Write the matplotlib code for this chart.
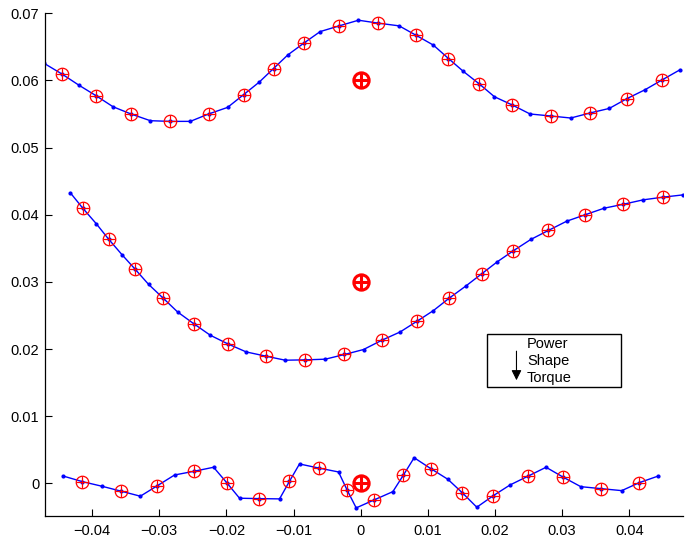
import numpy as np
import matplotlib
matplotlib.use('Agg')
import matplotlib.pyplot as plt
from matplotlib.patches import Rectangle, FancyArrowPatch

plt.rcParams['font.family'] = ['Liberation Sans', 'DejaVu Sans']

# power curve (top)
power_x = [-0.04710, -0.04446, -0.04199, -0.03940, -0.03688, -0.03420, -0.03132, -0.02835,
           -0.02537, -0.02265, -0.01982, -0.01744, -0.01510, -0.01298, -0.01083, -0.00841,
           -0.00603, -0.00320, -0.00033, 0.00265, 0.00573, 0.00821, 0.01083, 0.01307,
           0.01530, 0.01763, 0.01991, 0.02259, 0.02522, 0.02830, 0.03128, 0.03415,
           0.03702, 0.03961, 0.04234, 0.04491, 0.04754]
power_y = [0.06253, 0.06095, 0.05932, 0.05773, 0.05609, 0.05501, 0.05401, 0.05391,
           0.05391, 0.05501, 0.05599, 0.05788, 0.05976, 0.06178, 0.06382, 0.06560,
           0.06728, 0.06813, 0.06897, 0.06853, 0.06813, 0.06675, 0.06526, 0.06327,
           0.06134, 0.05951, 0.05758, 0.05634, 0.05501, 0.05471, 0.05441, 0.05516,
           0.05584, 0.05728, 0.05862, 0.06010, 0.06159]

# shape curve (middle)
shape_x = [-0.04323, -0.04134, -0.03936, -0.03753, -0.03554, -0.03356, -0.03158, -0.02943,
           -0.02726, -0.02488, -0.02240, -0.01976, -0.01704, -0.01411, -0.01124, -0.00826,
           -0.00528, -0.00241, 0.00042, 0.00315, 0.00588, 0.00845, 0.01083, 0.01321,
           0.01565, 0.01804, 0.02036, 0.02274, 0.02533, 0.02795, 0.03068, 0.03341,
           0.03624, 0.03911, 0.04208, 0.04497, 0.04804]
shape_y = [0.04327, 0.04094, 0.03866, 0.03637, 0.03406, 0.03187, 0.02964, 0.02761,
           0.02553, 0.02380, 0.02207, 0.02077, 0.01958, 0.01895, 0.01835, 0.01840,
           0.01850, 0.01920, 0.01994, 0.02132, 0.02256, 0.02419, 0.02574, 0.02761,
           0.02939, 0.03123, 0.03302, 0.03465, 0.03633, 0.03767, 0.03905, 0.04000,
           0.04098, 0.04157, 0.04223, 0.04262, 0.04297]

# torque curve (bottom)
torque_x = [-0.04432, -0.04144, -0.03851, -0.03564, -0.03281, -0.03033, -0.02771, -0.02482,
            -0.02190, -0.01991, -0.01804, -0.01510, -0.01208, -0.01060, -0.00911, -0.00628,
            -0.00330, -0.00205, -0.00067, 0.00201, 0.00479, 0.00637, 0.00796, 0.01045,
            0.01298, 0.01515, 0.01729, 0.01976, 0.02225, 0.02497, 0.02760, 0.03018,
            0.03277, 0.03574, 0.03887, 0.04149, 0.04432]
torque_y = [0.00111, 0.00027, -0.00042, -0.00116, -0.00190, -0.00037, 0.00126, 0.00181,
            0.00241, 0.00007, -0.00220, -0.00226, -0.00230, 0.00033, 0.00290, 0.00230,
            0.00171, -0.00092, -0.00364, -0.00245, -0.00122, 0.00126, 0.00383, 0.00220,
            0.00062, -0.00141, -0.00354, -0.00181, -0.00022, 0.00111, 0.00241, 0.00092,
            -0.00048, -0.00077, -0.00107, 0.00012, 0.00111]

# reference points at x = 0
ref_x = [0, 0, 0]
ref_y = [0.06, 0.03, 0.0]

box_lines = ['Power', 'Shape', 'Torque']

fig = plt.figure(figsize=(6.97, 5.41), dpi=100)
ax = fig.add_axes([0.0646, 0.0468, 0.9154, 0.9286])

curves = [(power_x, power_y), (shape_x, shape_y), (torque_x, torque_y)]
for xs, ys in curves:
    xs = np.array(xs)
    ys = np.array(ys)
    ax.plot(xs, ys, '-', color='b', lw=1.0, marker='.', ms=4, clip_on=True)
    # every other sample gets the red circle-plus
    ax.plot(xs[1::2], ys[1::2], 'o', mfc='none', mec='r', ms=9, mew=0.9)
    ax.plot(xs[1::2], ys[1::2], '+', color='r', ms=9, mew=0.9)

ax.plot(ref_x, ref_y, 'o', mfc='none', mec='r', ms=11, mew=2.2)
ax.plot(ref_x, ref_y, '+', color='r', ms=11, mew=2.2)

ax.set_xlim(-0.047, 0.048)
ax.set_ylim(-0.0048, 0.07)
ax.set_xticks(np.arange(-0.04, 0.041, 0.01))
ax.set_yticks(np.arange(0, 0.071, 0.01))

def fmt(v, pos=None):
    s = '%g' % round(v, 4)
    if s == '-0':
        s = '0'
    return s.replace('-', '\u2212')

ax.xaxis.set_major_formatter(plt.FuncFormatter(fmt))
ax.yaxis.set_major_formatter(plt.FuncFormatter(fmt))
ax.tick_params(direction='in', length=5, width=0.8, labelsize=10.5, colors='black')
ax.tick_params(axis='x', pad=6)
ax.tick_params(axis='y', pad=4)
ax.spines['top'].set_visible(False)
ax.spines['right'].set_visible(False)
for s in ['left', 'bottom']:
    ax.spines[s].set_linewidth(0.9)

# annotation box
fig.add_artist(Rectangle((0.699, 0.2847), 0.192, 0.098, transform=fig.transFigure,
                         fill=True, facecolor='white', edgecolor='black', lw=1.0))
for i, t in enumerate(box_lines):
    fig.text(0.756, 0.364 - i * 0.0315, t, fontsize=10.5, va='center', ha='left')
fig.add_artist(FancyArrowPatch((0.741, 0.356), (0.741, 0.292), transform=fig.transFigure,
                               arrowstyle='-|>,head_length=4,head_width=2', color='black',
                               lw=0.8, mutation_scale=1.5))

fig.savefig('out.png', dpi=100)
